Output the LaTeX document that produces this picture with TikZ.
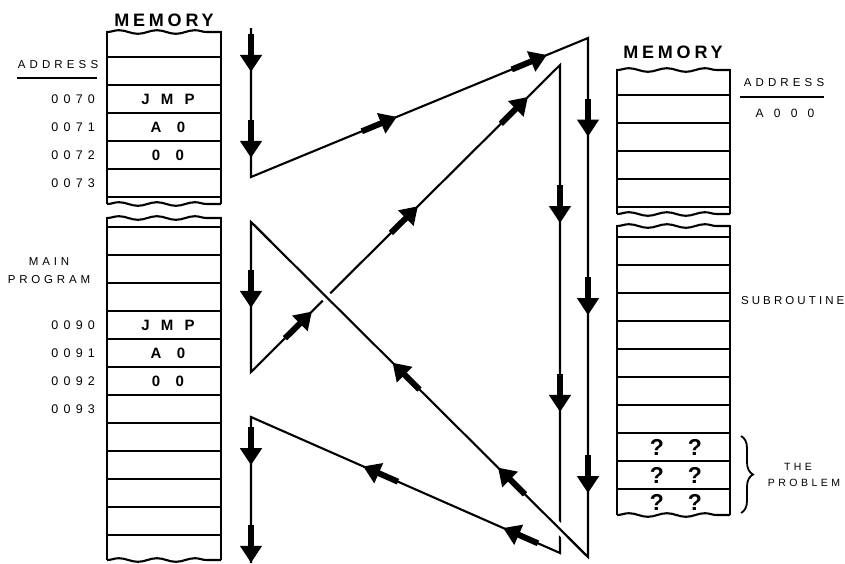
\documentclass[tikz,border=0pt]{standalone}
\usepackage{fontspec}
\setmainfont{Liberation Sans}
\newfontfamily\memfont[LetterSpace=21]{Liberation Sans}
\newfontfamily\addrfont[LetterSpace=36]{Liberation Sans}
\newfontfamily\numfont[LetterSpace=42]{Liberation Sans}
\newfontfamily\hexfont[LetterSpace=85]{Liberation Sans}
\newfontfamily\cellfont[LetterSpace=75]{Liberation Sans}
\newfontfamily\notefont[LetterSpace=33]{Liberation Sans}
\newfontfamily\subfont[LetterSpace=27]{Liberation Sans}
\usetikzlibrary{arrows.meta,calc,decorations.markings,decorations.pathmorphing,decorations.pathreplacing}
\newcommand\flowhead{\draw[line width=6pt,-{Triangle[length=17pt,width=21pt]}] (-38pt,0) -- (0,0);}

\begin{document}
\begin{tikzpicture}[x=1pt,y=-1pt,line width=2.1pt,
  wavy/.style={decorate,decoration={snake,amplitude=1.8pt,segment length=38pt}},
  memtxt/.style={font=\memfont\bfseries\fontsize{18}{20}\selectfont,inner sep=0pt},
  addrtxt/.style={font=\addrfont\fontsize{11.5}{13}\selectfont,inner sep=0pt},
  numtxt/.style={font=\numfont\fontsize{12.5}{14}\selectfont,inner sep=0pt,anchor=east},
  celltxt/.style={font=\cellfont\bfseries\fontsize{15}{17}\selectfont,inner sep=0pt},
  notetxt/.style={font=\notefont\fontsize{11.5}{13}\selectfont,inner sep=0pt},
  qtxt/.style={font=\bfseries\fontsize{23}{24}\selectfont,inner sep=0pt}]
\useasboundingbox (0,0) rectangle (845,563);

% left memory
\draw[wavy] (107,32) -- (221,32);
\draw (107,31) -- (107,204) (221,31) -- (221,204);
\foreach \y in {57,85,...,197} \draw (107,\y) -- (221,\y);
\draw[wavy] (107,204) -- (221,204);
\draw[wavy] (107,218) -- (221,218);
\draw (107,217) -- (107,560) (221,217) -- (221,560);
\foreach \y in {227,255,...,535} \draw (107,\y) -- (221,\y);
\draw[wavy] (107,560) -- (221,560);

% right memory
\draw[wavy] (617,70) -- (730,70);
\draw (617,69) -- (617,214) (730,69) -- (730,214);
\foreach \y in {95,123,...,207} \draw (617,\y) -- (730,\y);
\draw[wavy] (617,214) -- (730,214);
\draw[wavy] (617,226) -- (730,226);
\draw (617,225) -- (617,515) (730,225) -- (730,515);
\foreach \y in {237,265,...,489} \draw (617,\y) -- (730,\y);
\draw[wavy] (617,515) -- (730,515);

\node[memtxt] (memL) at (164,20) {MEMORY};
\node[memtxt] (memR) at (673,52) {MEMORY};

\node[addrtxt] (addrL) at (58,65) {ADDRESS};
\draw[line width=1.5pt] (17,78) -- (97,78);
\node[numtxt] (a70) at (96,99) {0070};
\node[numtxt] (a71) at (96,127) {0071};
\node[numtxt] (a72) at (96,155) {0072};
\node[numtxt] (a73) at (96,183) {0073};
\node[notetxt] (main) at (49,262) {MAIN};
\node[notetxt] (prog) at (49,280) {PROGRAM};
\node[numtxt] (a90) at (96,325) {0090};
\node[numtxt] (a91) at (96,353) {0091};
\node[numtxt] (a92) at (96,381) {0092};
\node[numtxt] (a93) at (96,409) {0093};

\node[celltxt] (jmp1) at (168,99) {JMP};
\node[celltxt] (hi1) at (168,127) {A 0};
\node[celltxt] (lo1) at (168,155) {0 0};
\node[celltxt] (jmp2) at (168,325) {JMP};
\node[celltxt] (hi2) at (168,353) {A 0};
\node[celltxt] (lo2) at (168,381) {0 0};

\node[addrtxt] (addrR) at (784,83) {ADDRESS};
\draw[line width=1.5pt] (740,97) -- (824,97);
\node[addrtxt,font=\hexfont\fontsize{12}{14}\selectfont] (aA0) at (785,113) {A000};
\node[notetxt,font=\subfont\fontsize{11.5}{13}\selectfont,anchor=west] (sub) at (740,301) {SUBROUTINE};

\node[qtxt] (q1) at (657,447) {?};
\node[qtxt] (q2) at (695,447) {?};
\node[qtxt] (q3) at (657,475) {?};
\node[qtxt] (q4) at (695,475) {?};
\node[qtxt] (q5) at (657,502) {?};
\node[qtxt] (q6) at (695,502) {?};
\draw[decorate,decoration={brace,amplitude=12pt},line width=1.8pt] (741,436) -- (741,513);
\node[notetxt,font=\notefont\fontsize{10.5}{12}\selectfont] (the) at (798,467) {THE};
\node[notetxt,font=\notefont\fontsize{10.5}{12}\selectfont] (prob) at (804,483) {PROBLEM};

% flow of control
\coordinate (s0) at (251,28);
\coordinate (c1) at (251,177);
\coordinate (c2) at (588,38);
\coordinate (c3) at (588,557);
\coordinate (c4) at (251,222);
\coordinate (c5) at (251,372);
\coordinate (c6) at (560,65);
\coordinate (c7) at (560,553);
\coordinate (c8) at (251,417);
\coordinate (c9) at (251,563);
\draw[line join=miter] (s0) -- (c1) -- (c2) -- (c3) -- (c4) -- (c5) -- (c6) -- (c7) -- (c8) -- (c9);
\draw[white,line width=10pt] ($(c3)!.06!(c4)$) -- ($(c3)!.94!(c4)$);
\draw (c3) -- (c4);

\path[decorate,decoration={markings,mark=at position .295 with {\flowhead},mark=at position .872 with {\flowhead}}] (s0) -- (c1);
\path[decorate,decoration={markings,mark=at position .433 with {\flowhead},mark=at position .878 with {\flowhead}}] (c1) -- (c2);
\path[decorate,decoration={markings,mark=at position .19 with {\flowhead},mark=at position .534 with {\flowhead},mark=at position .877 with {\flowhead}}] (c2) -- (c3);
\path[decorate,decoration={markings,mark=at position .267 with {\flowhead},mark=at position .58 with {\flowhead}}] (c3) -- (c4);
\path[decorate,decoration={markings,mark=at position .573 with {\flowhead}}] (c4) -- (c5);
\path[decorate,decoration={markings,mark=at position .197 with {\flowhead},mark=at position .54 with {\flowhead},mark=at position .896 with {\flowhead}}] (c5) -- (c6);
\path[decorate,decoration={markings,mark=at position .324 with {\flowhead},mark=at position .711 with {\flowhead}}] (c6) -- (c7);
\path[decorate,decoration={markings,mark=at position .184 with {\flowhead},mark=at position .637 with {\flowhead}}] (c7) -- (c8);
\path[decorate,decoration={markings,mark=at position .33 with {\flowhead},mark=at position .999 with {\flowhead}}] (c8) -- (c9);
\end{tikzpicture}
\end{document}
